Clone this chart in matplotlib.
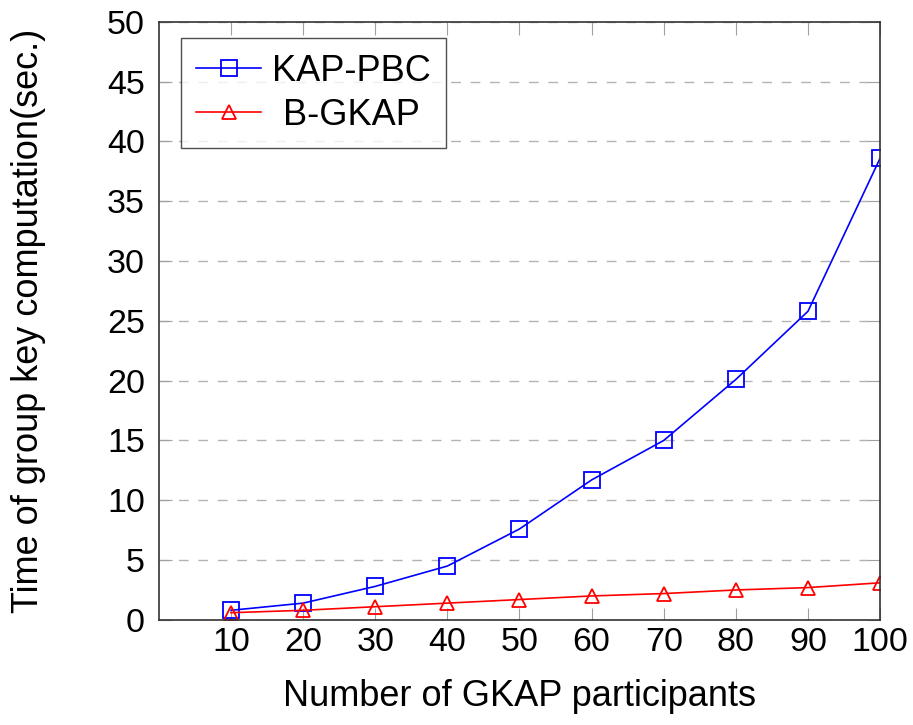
import matplotlib
matplotlib.use("Agg")
import matplotlib.pyplot as plt

plt.rcParams["font.family"] = ["Liberation Sans", "DejaVu Sans"]

participants = [10, 20, 30, 40, 50, 60, 70, 80, 90, 100]
kap_pbc = [0.8, 1.4, 2.8, 4.5, 7.6, 11.7, 15.0, 20.1, 25.8, 38.6]
b_gkap = [0.6, 0.8, 1.1, 1.4, 1.7, 2.0, 2.2, 2.5, 2.7, 3.1]
y_ticks = list(range(0, 51, 5))

fig = plt.figure(figsize=(9.13, 7.25), dpi=100)
ax = fig.add_axes([0.174, 0.145, 0.79, 0.825])

ax.plot(participants, kap_pbc, color="#0000ff", lw=1.2, marker="s", ms=11,
        mfc="none", mew=1.3, label="KAP-PBC")
ax.plot(participants, b_gkap, color="#ff0000", lw=1.2, marker="^", ms=10,
        mfc="none", mew=1.3, label="B-GKAP")

ax.set_xlim(0, 100)
ax.set_ylim(0, 50)
ax.set_xticks(participants)
ax.set_yticks(y_ticks)
ax.tick_params(axis="both", which="both", direction="in", length=9,
               color="#a0a0a0", labelsize=24.5, top=True, right=True)
ax.tick_params(axis="x", pad=5)
ax.tick_params(axis="y", pad=10)
ax.yaxis.grid(True, ls=(0, (7, 7)), color="#b3b3b3", lw=1.0)
ax.set_axisbelow(True)
for sp in ax.spines.values():
    sp.set_linewidth(1.2)
    sp.set_color("#333333")

ax.set_xlabel("Number of GKAP participants", fontsize=26)
ax.set_ylabel("Time of group key computation(sec.)", fontsize=26)
ax.xaxis.set_label_coords(0.5, -0.099)
ax.yaxis.set_label_coords(-0.157, 0.5)

leg = ax.legend(loc="upper left", bbox_to_anchor=(0.0305, 0.972), fontsize=26,
                frameon=True, fancybox=False, edgecolor="#222222",
                handlelength=1.8, borderpad=0.42, labelspacing=0.25,
                handletextpad=0.3, borderaxespad=0)
leg.get_frame().set_linewidth(1.0)

# centre the shorter label under the longer one, like the original legend
fig.canvas.draw()
texts = leg.get_texts()
widths = [t.get_window_extent().width for t in texts]
for t, w in zip(texts, widths):
    t.set_x((max(widths) - w) / 2)

fig.savefig("out.png", dpi=100)
